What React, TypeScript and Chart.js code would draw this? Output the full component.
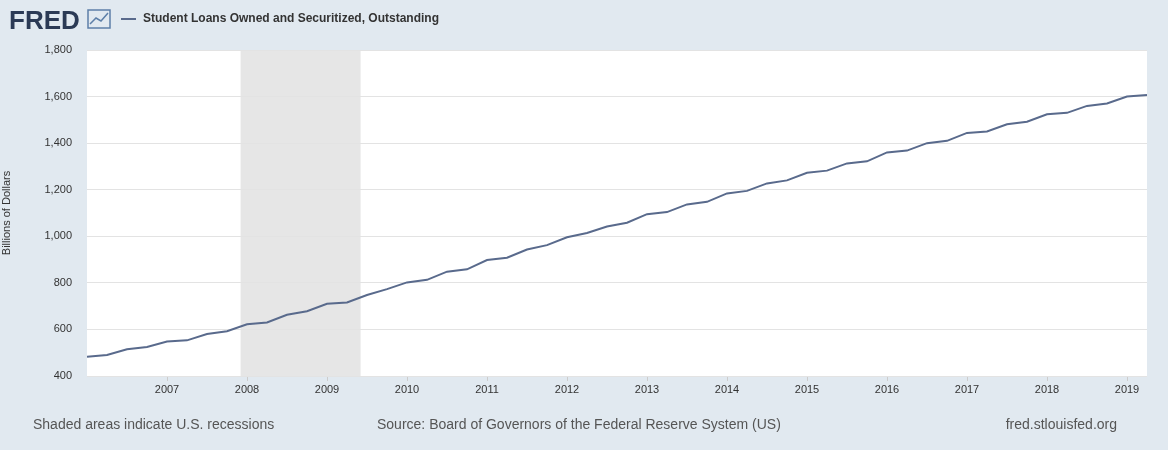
import { useEffect, useRef } from "react";
import { Chart, registerables, Plugin } from "chart.js";

Chart.register(...registerables);

// quarterly observations, 2006 Q1 .. 2019 Q2
const startYear = 2006;
const values = [
  483, 490, 515, 525,
  548, 553, 580, 592,
  622, 630, 663, 678,
  710, 716, 748, 773,
  802, 813, 848, 858,
  898, 908, 943, 962,
  996, 1014, 1042, 1058,
  1095, 1104, 1137, 1148,
  1184, 1195, 1227, 1240,
  1273, 1282, 1313, 1322,
  1360, 1368, 1400, 1410,
  1444, 1450, 1481, 1492,
  1524, 1530, 1560, 1570,
  1600, 1607,
];
const recession = [2007.92, 2009.42];
const seriesName = "Student Loans Owned and Securitized, Outstanding";
const yTitle = "Billions of Dollars";
const footer = [
  "Shaded areas indicate U.S. recessions",
  "Source: Board of Governors of the Federal Reserve System (US)",
  "fred.stlouisfed.org",
];

const font = "'Liberation Sans', Arial, sans-serif";

const fredPlugin: Plugin<"line"> = {
  id: "fred",
  beforeDraw(chart) {
    const { ctx, chartArea: a, scales } = chart;
    ctx.save();
    ctx.fillStyle = "#e1e9f0";
    ctx.fillRect(0, 0, chart.width, chart.height);
    ctx.fillStyle = "#ffffff";
    ctx.fillRect(a.left, a.top, a.right - a.left, a.bottom - a.top);
    const x0 = scales.x.getPixelForValue(recession[0]);
    const x1 = scales.x.getPixelForValue(recession[1]);
    ctx.fillStyle = "#e6e6e6";
    ctx.fillRect(x0, a.top, x1 - x0, a.bottom - a.top);
    ctx.restore();
  },
  afterDraw(chart) {
    const { ctx } = chart;
    ctx.save();
    // logo
    ctx.fillStyle = "#2b3a55";
    ctx.font = `bold 26px ${font}`;
    ctx.textBaseline = "alphabetic";
    ctx.fillText("FRED", 9, 29);
    ctx.strokeStyle = "#5d7fa8";
    ctx.lineWidth = 1.5;
    ctx.strokeRect(88, 10, 22, 18);
    ctx.beginPath();
    ctx.moveTo(90, 24);
    ctx.lineTo(96, 18);
    ctx.lineTo(101, 21);
    ctx.lineTo(108, 13);
    ctx.stroke();
    // legend
    ctx.strokeStyle = "#596a8c";
    ctx.lineWidth = 2;
    ctx.beginPath();
    ctx.moveTo(121, 19);
    ctx.lineTo(136, 19);
    ctx.stroke();
    ctx.fillStyle = "#333333";
    ctx.font = `bold 12px ${font}`;
    ctx.textBaseline = "middle";
    ctx.fillText(seriesName, 143, 19);
    // footer
    ctx.fillStyle = "#555555";
    ctx.font = `14px ${font}`;
    ctx.fillText(footer[0], 33, 425);
    ctx.fillText(footer[1], 377, 425);
    ctx.textAlign = "right";
    ctx.fillText(footer[2], 1117, 425);
    ctx.restore();
  },
};

const App = () => {
  const canvasRef = useRef<HTMLCanvasElement | null>(null);
  const chartRef = useRef<Chart<"line"> | null>(null);

  useEffect(() => {
    document.body.style.margin = "0";
    if (!canvasRef.current) return;
    const ctx = canvasRef.current.getContext("2d");
    if (!ctx) return;
    if (chartRef.current) chartRef.current.destroy();

    const points = values.map((v, i) => ({ x: startYear + i / 4, y: v }));

    chartRef.current = new Chart(ctx, {
      type: "line",
      data: {
        datasets: [
          {
            data: points,
            borderColor: "#596a8c",
            borderWidth: 2,
            pointRadius: 0,
            tension: 0,
          },
        ],
      },
      options: {
        responsive: false,
        animation: false,
        layout: { padding: { top: 50, right: 21, left: 0, bottom: 0 } },
        plugins: { legend: { display: false }, tooltip: { enabled: false } },
        scales: {
          x: {
            type: "linear",
            min: 2006,
            max: 2019.25,
            afterFit: (s) => {
              s.height = 74;
            },
            afterBuildTicks: (s) => {
              s.ticks = Array.from({ length: 13 }, (_, i) => ({ value: 2007 + i }));
            },
            grid: { drawOnChartArea: false, tickLength: 5, color: "#cccccc" },
            border: { display: false },
            ticks: {
              color: "#333333",
              font: { size: 11, family: font },
              maxRotation: 0,
              padding: 2,
              callback: (v) => String(v),
            },
          },
          y: {
            min: 400,
            max: 1800,
            afterFit: (s) => {
              s.width = 87;
            },
            grid: { color: "#e3e3e3", drawTicks: false },
            border: { display: false },
            ticks: {
              stepSize: 200,
              color: "#333333",
              padding: 15,
              font: { size: 11, family: font },
              callback: (v) => Number(v).toLocaleString("en-US"),
            },
            title: {
              display: true,
              text: yTitle,
              color: "#333333",
              font: { size: 11, family: font },
              padding: { top: 0, bottom: 0 },
            },
          },
        },
      },
      plugins: [fredPlugin],
    });

    return () => {
      if (chartRef.current) chartRef.current.destroy();
    };
  }, []);

  return <canvas ref={canvasRef} width={1168} height={450} style={{ display: "block" }} />;
};

export default App;
